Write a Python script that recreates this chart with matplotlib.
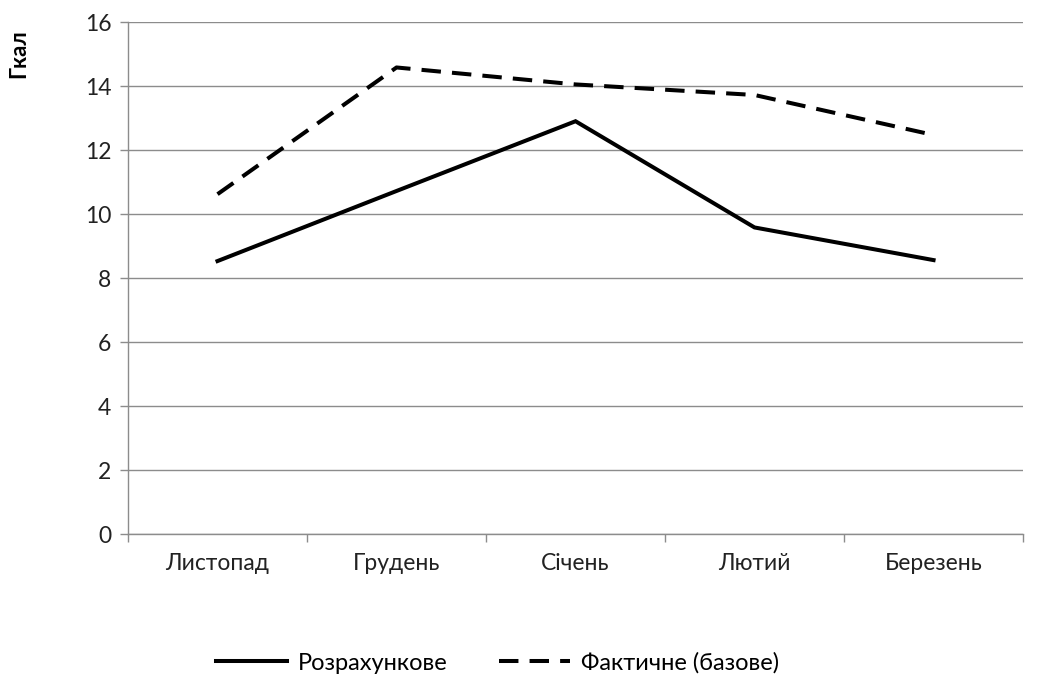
import matplotlib
matplotlib.use("Agg")
import matplotlib.pyplot as plt

# Data
months = ["Листопад", "Грудень", "Січень", "Лютий", "Березень"]
calculated = [8.53, 10.72, 12.9, 9.58, 8.56]     # Розрахункове
actual = [10.62, 14.58, 14.05, 13.72, 12.47]     # Фактичне (базове)
yticks = [0, 2, 4, 6, 8, 10, 12, 14, 16]

plt.rcParams['font.family'] = ['Lato', 'DejaVu Sans']
plt.rcParams['lines.scale_dashes'] = False

fig = plt.figure(figsize=(10.45, 6.82), dpi=100)
ax = fig.add_axes([0.1225, 0.217, 0.8565, 0.7507])

x = range(len(months))
ax.plot(x, calculated, color='black', lw=2.9, label='Розрахункове',
        solid_joinstyle='miter')
ax.plot(x, actual, color='black', lw=2.9, dashes=(14, 8),
        label='Фактичне (базове)')

ax.set_xlim(-0.5, len(months) - 0.5)
ax.set_ylim(0, 16)
ax.set_yticks(yticks)
ax.set_yticklabels([str(v) for v in yticks], fontsize=16.5, color='#222222')
ax.yaxis.grid(True, color='#8c8c8c', lw=1)
ax.set_axisbelow(True)

# category labels in the middle, ticks at boundaries
ax.set_xticks(list(x))
ax.set_xticklabels(months, fontsize=16.5, color='#222222')
ax.tick_params(axis='x', length=0, pad=14)
ax.set_xticks([i - 0.5 for i in range(len(months) + 1)], minor=True)
ax.tick_params(axis='x', which='minor', length=6, color='#8c8c8c', width=1)
ax.tick_params(axis='y', length=6, color='#8c8c8c', width=1, pad=6)

for s in ['top', 'right']:
    ax.spines[s].set_visible(False)
for s in ['left', 'bottom']:
    ax.spines[s].set_color('#8c8c8c')
    ax.spines[s].set_linewidth(1)

fig.text(0.018, 0.921, 'Гкал', rotation=90, fontsize=16, fontweight='bold',
         ha='center', va='center')

fig.legend(loc='center', bbox_to_anchor=(0.476, 0.028), ncol=2, frameon=False,
           fontsize=17, handlelength=3.0, columnspacing=2.2, handletextpad=0.45)

fig.savefig('out.png', dpi=100)
